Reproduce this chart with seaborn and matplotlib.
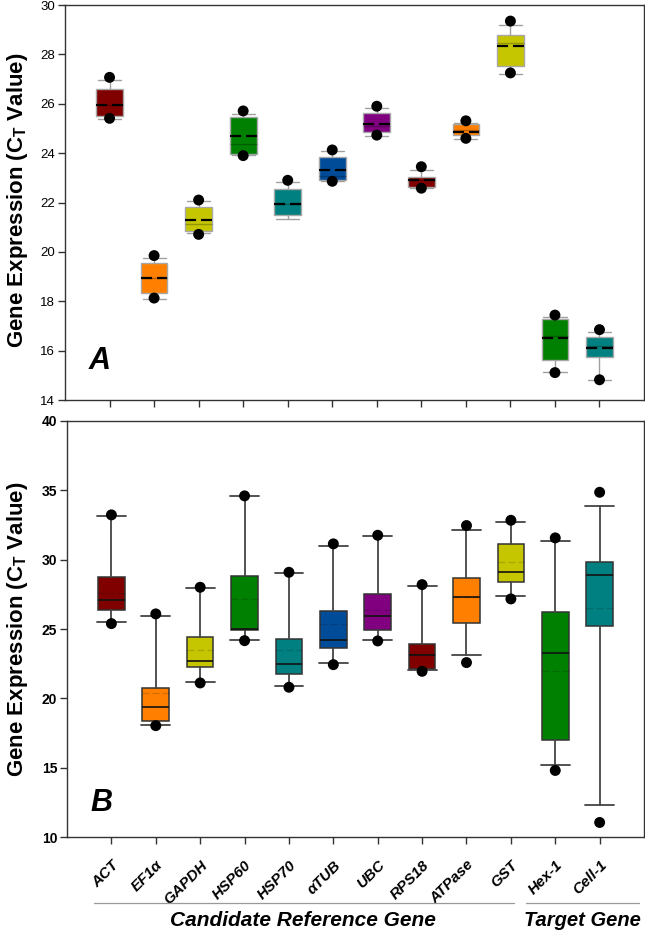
import numpy as np
import pandas as pd
import matplotlib
matplotlib.use("Agg")
import matplotlib.pyplot as plt
import seaborn as sns
from matplotlib.lines import Line2D

sns.set_theme(style="ticks")
plt.rcParams['font.family'] = ['Liberation Sans', 'DejaVu Sans']
plt.rcParams['text.color'] = 'black'
plt.rcParams['xtick.labelcolor'] = 'black'
plt.rcParams['ytick.labelcolor'] = 'black'

genes = ['ACT', 'EF1α', 'GAPDH', 'HSP60', 'HSP70', 'αTUB', 'UBC', 'RPS18',
         'ATPase', 'GST', 'Hex-1', 'Cell-1']
colors = ['#800000', '#ff8000', '#c6c600', '#008000', '#008080', '#004c99',
          '#800080', '#800000', '#ff8000', '#c6c600', '#008000', '#008080']

# ---- panel A (CT values) ----
a_q1 = [25.52, 18.34, 20.86, 23.95, 21.49, 22.90, 24.87, 22.62, 24.73, 27.54, 15.61, 15.74]
a_med = [25.95, 18.93, 21.13, 24.36, 21.94, 23.09, 25.10, 22.90, 24.94, 28.47, 16.60, 16.19]
a_q3 = [26.59, 19.54, 21.80, 25.45, 22.54, 23.86, 25.64, 23.05, 25.17, 28.80, 17.28, 16.57]
a_mean = [25.95, 18.93, 21.28, 24.68, 21.94, 23.30, 25.18, 22.90, 24.86, 28.35, 16.50, 16.11]
a_lo = [25.40, 18.10, 20.76, 23.93, 21.33, 22.88, 24.70, 22.60, 24.56, 27.20, 15.12, 14.82]
a_hi = [26.96, 19.77, 22.05, 25.60, 22.83, 24.07, 25.84, 23.33, 25.22, 29.18, 17.36, 16.77]
a_dot_lo = [25.41, 18.13, 20.71, 23.90, np.nan, 22.86, 24.73, 22.58, 24.60, 27.25, 15.11, 14.82]
a_dot_hi = [27.07, 19.85, 22.10, 25.71, 22.90, 24.13, 25.90, 23.45, 25.31, 29.35, 17.44, 16.85]

# ---- panel B (CT values) ----
b_q1 = [26.35, 18.37, 22.27, 24.96, 21.76, 23.66, 24.90, 22.09, 25.44, 28.40, 17.00, 25.20]
b_med = [27.07, 19.35, 22.67, 25.00, 22.50, 24.18, 25.92, 23.13, 27.32, 29.09, 23.25, 28.90]
b_q3 = [28.73, 20.75, 24.43, 28.80, 24.29, 26.33, 27.55, 23.90, 28.69, 31.16, 26.26, 29.86]
b_mean = [27.60, 20.39, 23.51, 27.17, 23.51, 25.39, 26.40, 23.20, 27.30, 29.81, 22.00, 26.50]
b_lo = [25.53, 18.05, 21.20, 24.24, 20.90, 22.58, 24.21, 22.02, 23.13, 27.41, 15.17, 12.31]
b_hi = [33.18, 25.97, 27.94, 34.57, 29.02, 31.00, 31.72, 28.08, 32.12, 32.73, 31.38, 33.85]
b_dot_lo = [25.39, 18.03, 21.11, 24.16, 20.80, 22.43, 24.14, 21.95, 22.58, 27.17, 14.80, 11.05]
b_dot_hi = [33.23, 26.09, 28.01, 34.60, 29.09, 31.14, 31.76, 28.20, 32.46, 32.84, 31.57, 34.86]

pos = np.arange(len(genes))


def make_stats(q1, med, q3, mean, lo, hi):
    return [dict(q1=q1[i], med=med[i], q3=q3[i], mean=mean[i],
                 whislo=lo[i], whishi=hi[i], fliers=[], label=genes[i])
            for i in range(len(genes))]


def dots_df(dlo, dhi):
    return pd.DataFrame({'pos': np.concatenate([pos, pos]),
                         'val': np.concatenate([dlo, dhi])}).dropna()


fig = plt.figure(figsize=(6.45, 9.32), dpi=100)
axA = fig.add_axes([0.1008, 0.5708, 0.8977, 0.4238])
axB = fig.add_axes([0.1039, 0.1019, 0.8946, 0.4464])

# panel A: grey outlines, bold dashed mean
bpA = axA.bxp(make_stats(a_q1, a_med, a_q3, a_mean, a_lo, a_hi), positions=pos,
              widths=0.6, capwidths=0.52, patch_artist=True, showmeans=True,
              meanline=True, showfliers=False,
              boxprops=dict(edgecolor='#a8a8a8', linewidth=1.0),
              whiskerprops=dict(color='#a0a0a0', linewidth=1.0),
              capprops=dict(color='#a0a0a0', linewidth=1.0),
              medianprops=dict(color='black', alpha=0.25, linewidth=1.0),
              meanprops=dict(color='black', linestyle=(0, (5, 2.2)), linewidth=1.6))
for patch, c in zip(bpA['boxes'], colors):
    patch.set_facecolor(c)

# panel B: dark outlines, solid median, faint dashed mean
bpB = axB.bxp(make_stats(b_q1, b_med, b_q3, b_mean, b_lo, b_hi), positions=pos,
              widths=0.6, capwidths=0.65, patch_artist=True, showmeans=True,
              meanline=True, showfliers=False,
              boxprops=dict(edgecolor='#333333', linewidth=1.1),
              whiskerprops=dict(color='#444444', linewidth=1.3),
              capprops=dict(color='#444444', linewidth=1.3),
              medianprops=dict(color='#111111', alpha=0.85, linewidth=1.4),
              meanprops=dict(color='black', alpha=0.15, linestyle=(0, (5, 2.2)), linewidth=1.0))
for patch, c in zip(bpB['boxes'], colors):
    patch.set_facecolor(c)

sns.scatterplot(data=dots_df(a_dot_lo, a_dot_hi), x='pos', y='val', ax=axA,
                color='black', s=62, edgecolor='none', zorder=5, legend=False)
sns.scatterplot(data=dots_df(b_dot_lo, b_dot_hi), x='pos', y='val', ax=axB,
                color='black', s=62, edgecolor='none', zorder=5, legend=False)

for ax in (axA, axB):
    ax.set_xlim(-1, 12)
    ax.set_xlabel('')
    ax.set_ylabel('')
    for sp in ax.spines.values():
        sp.set_visible(True)
        sp.set_color('#333333')
        sp.set_linewidth(1.0)
    ax.tick_params(axis='both', direction='out', length=5, width=1, color='#333333')

axA.set_ylim(14, 30)
axA.set_yticks(np.arange(14, 31, 2))
axA.set_xticks(pos)
axA.set_xticklabels([])
axA.tick_params(axis='y', labelsize=9.5, labelcolor='black', pad=2)

axB.set_ylim(10, 40)
axB.set_yticks(np.arange(10, 41, 5))
axB.set_xticks(pos)
axB.set_xticklabels(genes, rotation=45, ha='right', rotation_mode='anchor',
                    fontsize=11, fontweight='bold', fontstyle='italic', color='black')
axB.tick_params(axis='x', pad=10)
axB.tick_params(axis='y', labelsize=10, labelcolor='black', pad=2)
for t in axB.get_yticklabels():
    t.set_fontweight('bold')

axA.text(0.04, 0.06, 'A', transform=axA.transAxes, fontsize=22, color='black',
         fontweight='bold', fontstyle='italic', ha='left', va='bottom')
axB.text(0.04, 0.045, 'B', transform=axB.transAxes, fontsize=22, color='black',
         fontweight='bold', fontstyle='italic', ha='left', va='bottom')

ylab = 'Gene Expression (C$_\\mathregular{T}$ Value)'
for yc in (0.785, 0.325):
    fig.text(0.027, yc, ylab, rotation=90, ha='center', va='center',
             fontsize=16, fontweight='bold', color='black')

# group brackets under panel B
fig.add_artist(Line2D([0.146, 0.797], [0.0311, 0.0311], color='#999999', lw=0.9))
fig.add_artist(Line2D([0.816, 0.991], [0.0311, 0.0311], color='#999999', lw=0.9))
fig.text(0.47, 0.0125, 'Candidate Reference Gene', ha='center', va='center',
         fontsize=15, fontweight='bold', fontstyle='italic', color='black')
fig.text(0.993, 0.0125, 'Target Gene', ha='right', va='center',
         fontsize=14.5, fontweight='bold', fontstyle='italic', color='black')

fig.savefig('out.png', dpi=100)
